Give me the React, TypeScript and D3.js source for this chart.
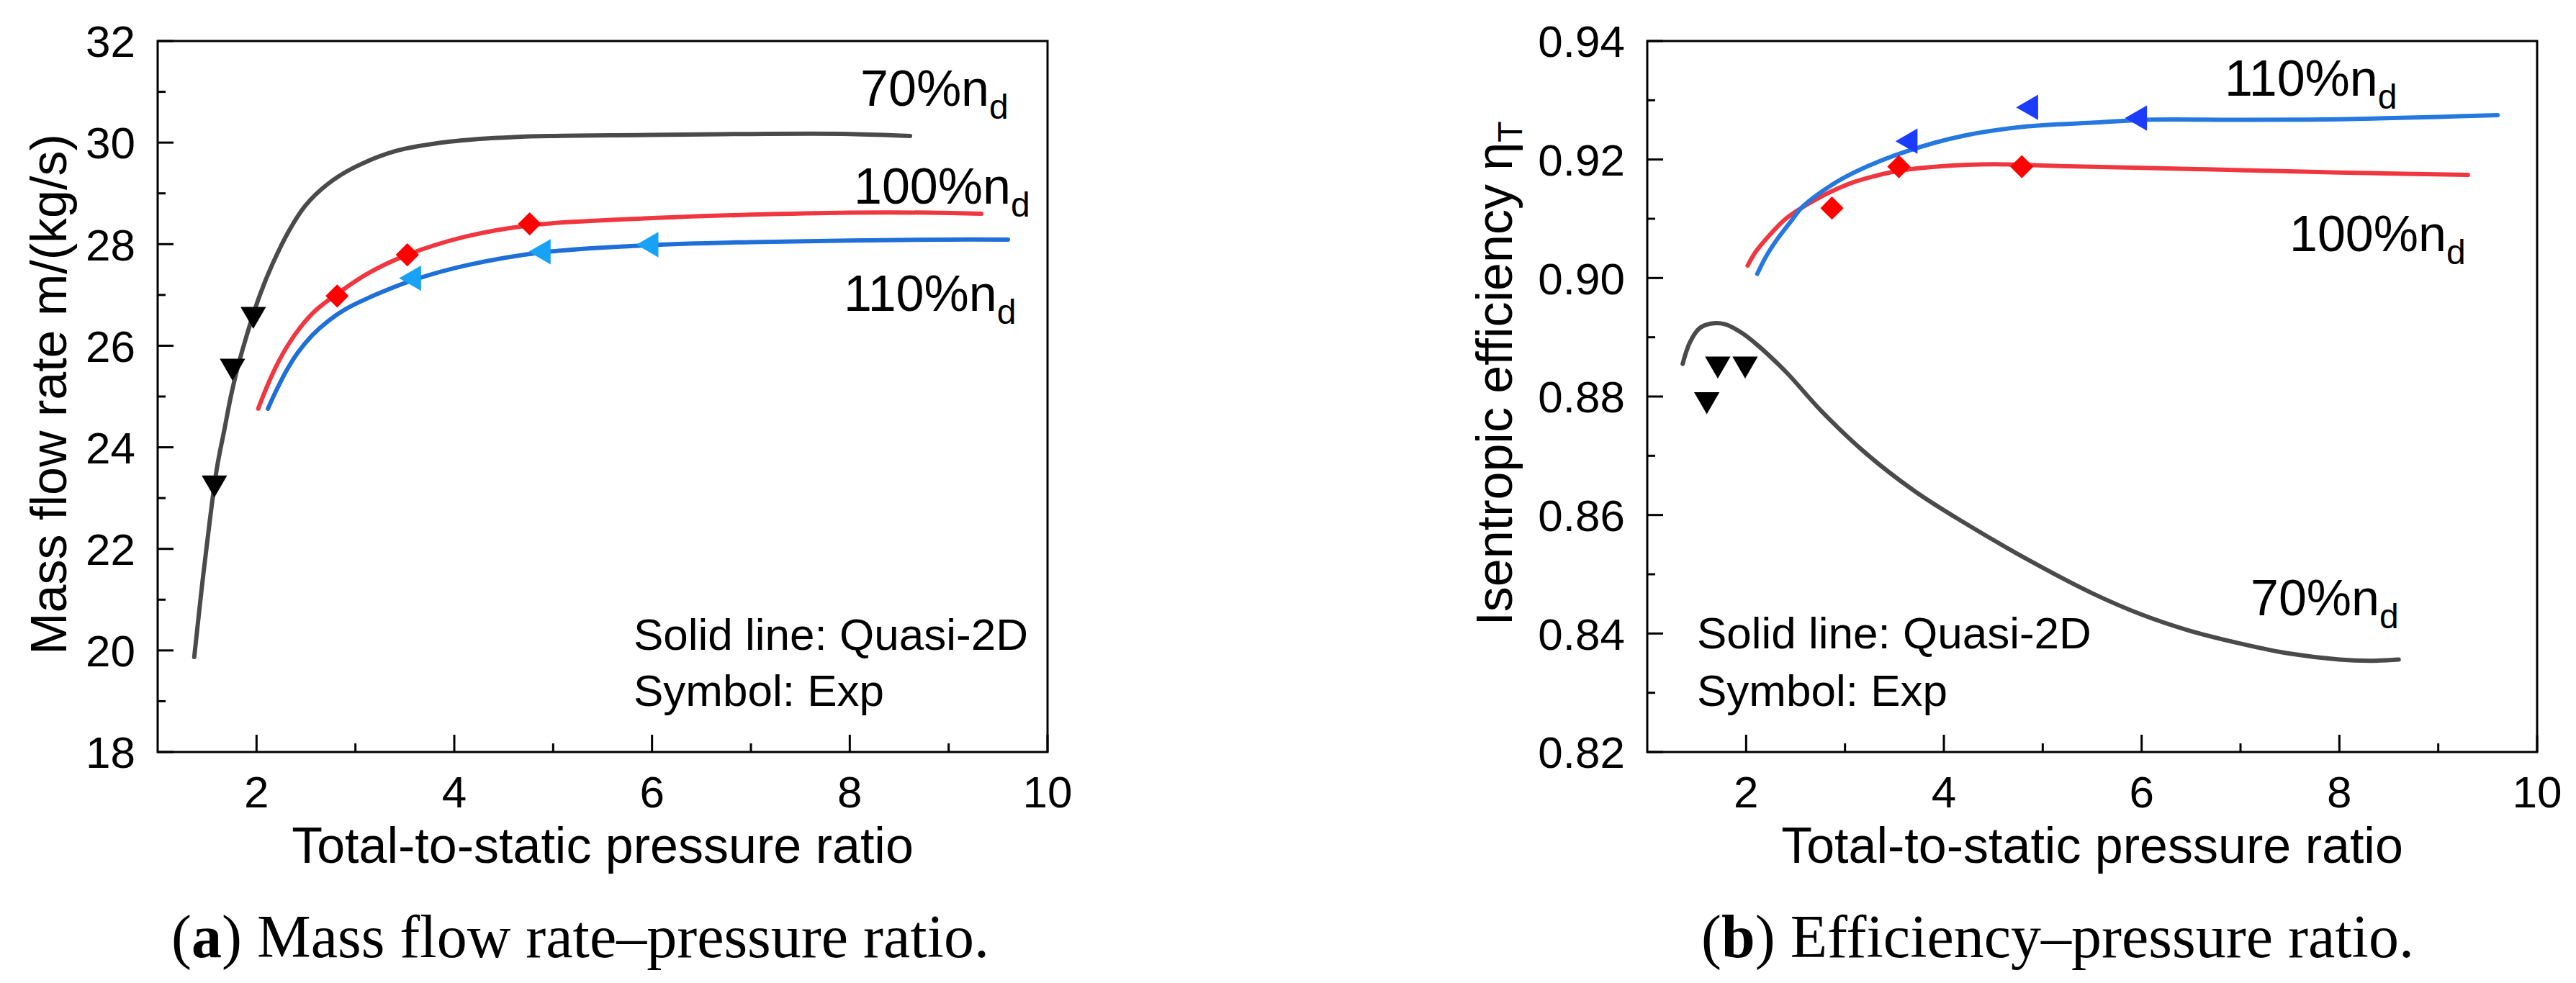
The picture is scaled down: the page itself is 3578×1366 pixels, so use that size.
import React from "react";
import * as d3 from "d3";

type Pt = [number, number];

// ---------- axes ----------
const xDomain: [number, number] = [1, 10];
const xMajorTicks = [2, 4, 6, 8, 10];
const xMinorTicks = [3, 5, 7, 9];
const massDomain: [number, number] = [18, 32];
const massMajorTicks = [18, 20, 22, 24, 26, 28, 30, 32];
const massMinorTicks = [19, 21, 23, 25, 27, 29, 31];
const effDomain: [number, number] = [0.82, 0.94];
const effMajorTicks = [0.82, 0.84, 0.86, 0.88, 0.9, 0.92, 0.94];
const effMinorTicks = [0.83, 0.85, 0.87, 0.89, 0.91, 0.93];

// ---------- (a) mass flow rate: Quasi-2D lines ----------
const massLine70: Pt[] = [
  [1.37, 19.87], [1.45, 21.3], [1.53, 22.6], [1.6, 23.6], [1.675, 24.35], [1.74, 25.0],
  [1.806, 25.55], [1.9, 26.2], [2.034, 27.0], [2.164, 27.62], [2.327, 28.26], [2.49, 28.75],
  [2.718, 29.18], [2.978, 29.5], [3.4, 29.83], [3.955, 30.02], [4.606, 30.11], [5.967, 30.15],
  [7.0, 30.17], [8.0, 30.17], [8.61, 30.13],
];
const massLine100: Pt[] = [
  [2.017, 24.76], [2.1, 25.17], [2.2, 25.6], [2.32, 26.02], [2.45, 26.38], [2.6, 26.7],
  [2.815, 27.02], [3.141, 27.44], [3.525, 27.79], [4.117, 28.15], [4.76, 28.37], [5.967, 28.51],
  [7.0, 28.58], [8.0, 28.62], [8.8, 28.62], [9.33, 28.6],
];
const massLine110: Pt[] = [
  [2.115, 24.76], [2.2, 25.12], [2.3, 25.5], [2.42, 25.87], [2.56, 26.2], [2.72, 26.48],
  [2.9, 26.72], [3.2, 27.0], [3.597, 27.3], [4.117, 27.58], [4.9, 27.84], [5.967, 27.98],
  [7.0, 28.04], [8.0, 28.07], [9.0, 28.09], [9.6, 28.09],
];
// ---------- (a) experiment symbols ----------
const massExp70: Pt[] = [[1.574, 23.3], [1.757, 25.6], [1.967, 26.62]];
const massExp100: Pt[] = [[2.815, 26.98], [3.525, 27.79], [4.762, 28.4]];
const massExp110: Pt[] = [[3.59, 27.33], [4.9, 27.85], [5.99, 27.99]];

// ---------- (b) efficiency: Quasi-2D lines ----------
const effLine70: Pt[] = [
  [1.358, 0.8855], [1.43, 0.8891], [1.527, 0.8915], [1.641, 0.8923], [1.788, 0.8922],
  [1.95, 0.8908], [2.113, 0.8887], [2.406, 0.8841], [2.764, 0.8775], [3.219, 0.8703],
  [3.707, 0.864], [4.196, 0.8588], [4.846, 0.8525], [5.5, 0.8468], [6.0, 0.8432],
  [6.5, 0.8404], [7.0, 0.8383], [7.5, 0.8366], [8.0, 0.8356], [8.3, 0.8354], [8.6, 0.8356],
];
const effLine100: Pt[] = [
  [2.015, 0.9021], [2.1, 0.9045], [2.24, 0.9073], [2.38, 0.9097], [2.51, 0.9113],
  [2.764, 0.9138], [3.057, 0.916], [3.3, 0.9172], [3.545, 0.9181], [4.0, 0.9189],
  [4.5, 0.9192], [5.17, 0.9189], [6.0, 0.9186], [7.0, 0.9182], [8.0, 0.9178], [9.3, 0.9174],
];
const effLine110: Pt[] = [
  [2.113, 0.9007], [2.2, 0.9036], [2.308, 0.9064], [2.45, 0.9095], [2.569, 0.912],
  [2.894, 0.916], [3.22, 0.9188], [3.643, 0.9215], [4.196, 0.924], [4.846, 0.9256],
  [5.497, 0.9262], [6.04, 0.9267], [7.0, 0.9267], [8.0, 0.9268], [9.0, 0.9272], [9.6, 0.9275],
];
// ---------- (b) experiment symbols ----------
const effExp70: Pt[] = [[1.602, 0.8795], [1.713, 0.8855], [1.99, 0.8855]];
const effExp100: Pt[] = [[2.868, 0.9118], [3.545, 0.9188], [4.788, 0.9188]];
const effExp110: Pt[] = [[3.659, 0.9231], [4.879, 0.9288], [5.98, 0.927]];

// ---------- texts ----------
const speedLabels = ["70%n", "100%n", "110%n"];
const noteLines = ["Solid line: Quasi-2D", "Symbol: Exp"];
const massLabelPos: Pt[] = [[8.107, 30.725], [8.041, 28.8], [7.939, 26.686]];
const massNotePos: Pt[] = [[5.813, 20.012], [5.813, 18.907]];
const effLabelPos: Pt[] = [[7.102, 0.84307], [7.495, 0.90453], [6.84, 0.93077]];
const effNotePos: Pt[] = [[1.502, 0.83749], [1.502, 0.82778]];

const SANS = "'Liberation Sans', Arial, Helvetica, sans-serif";
const SERIF = "'Liberation Serif', 'Times New Roman', serif";

const TOP = 57;
const BOTTOM = 1045;

type Shape = "down" | "left" | "diamond";
interface Series {
  line: Pt[];
  exp: Pt[];
  lineColor: string;
  markColor: string;
  shape: Shape;
}

interface PanelProps {
  left: number;
  right: number;
  yDomain: [number, number];
  yMajor: number[];
  yMinor: number[];
  fmt: (v: number) => string;
  series: Series[];
  labelPos: Pt[];
  notePos: Pt[];
  yTitle: string;
  yTitleSub?: string;
  yTitleX: number;
  yTitleY: number;
  capLetter: string;
  capText: string;
  capX: number;
}

function markerPath(shape: Shape): { d: string; rot: number } {
  if (shape === "diamond") {
    return { d: d3.symbol().type(d3.symbolSquare).size(520)() as string, rot: 45 };
  }
  const d = d3.symbol().type(d3.symbolTriangle).size(540)() as string;
  return { d, rot: shape === "down" ? 180 : -90 };
}

function Panel(p: PanelProps) {
  const x = d3.scaleLinear().domain(xDomain).range([p.left, p.right]);
  const y = d3.scaleLinear().domain(p.yDomain).range([BOTTOM, TOP]);
  const line = d3
    .line<Pt>()
    .x((d) => x(d[0]))
    .y((d) => y(d[1]))
    .curve(d3.curveCatmullRom.alpha(0.5));
  const midX = (p.left + p.right) / 2;

  return (
    <g>
      {p.series.map((s, i) => (
        <path
          key={"l" + i}
          d={line(s.line) as string}
          fill="none"
          stroke={s.lineColor}
          strokeWidth={6}
          strokeLinecap="round"
          strokeLinejoin="round"
        />
      ))}
      {p.series.map((s, i) => {
        const m = markerPath(s.shape);
        return s.exp.map((d, j) => (
          <path
            key={"m" + i + "_" + j}
            d={m.d}
            fill={s.markColor}
            transform={`translate(${x(d[0])},${y(d[1])}) rotate(${m.rot})`}
          />
        ));
      })}
      <rect
        x={p.left}
        y={TOP}
        width={p.right - p.left}
        height={BOTTOM - TOP}
        fill="none"
        stroke="#000"
        strokeWidth={3}
      />
      {xMajorTicks.map((t) => (
        <g key={"xt" + t}>
          <line x1={x(t)} x2={x(t)} y1={BOTTOM} y2={BOTTOM - 24} stroke="#000" strokeWidth={3} />
          <text x={x(t)} y={1122} textAnchor="middle" fontFamily={SANS} fontSize={62}>
            {t}
          </text>
        </g>
      ))}
      {xMinorTicks.map((t) => (
        <line key={"xm" + t} x1={x(t)} x2={x(t)} y1={BOTTOM} y2={BOTTOM - 12} stroke="#000" strokeWidth={3} />
      ))}
      {p.yMajor.map((t) => (
        <g key={"yt" + t}>
          <line x1={p.left} x2={p.left + 22} y1={y(t)} y2={y(t)} stroke="#000" strokeWidth={3} />
          <text
            x={p.left - 31}
            y={y(t)}
            dy="0.36em"
            textAnchor="end"
            fontFamily={SANS}
            fontSize={62}
          >
            {p.fmt(t)}
          </text>
        </g>
      ))}
      {p.yMinor.map((t) => (
        <line key={"ym" + t} x1={p.left} x2={p.left + 11} y1={y(t)} y2={y(t)} stroke="#000" strokeWidth={3} />
      ))}
      {p.labelPos.map((d, i) => (
        <text key={"sl" + i} x={x(d[0])} y={y(d[1])} fontFamily={SANS} fontSize={70}>
          {speedLabels[i]}
          <tspan fontSize={48} dy={18}>
            d
          </tspan>
        </text>
      ))}
      {p.notePos.map((d, i) => (
        <text key={"nt" + i} x={x(d[0])} y={y(d[1])} fontFamily={SANS} fontSize={62}>
          {noteLines[i]}
        </text>
      ))}
      <text x={midX} y={1199} textAnchor="middle" fontFamily={SANS} fontSize={70}>
        Total-to-static pressure ratio
      </text>
      <text
        transform={`translate(${p.yTitleX},${p.yTitleY}) rotate(-90)`}
        textAnchor="middle"
        fontFamily={SANS}
        fontSize={70}
      >
        {p.yTitle}
        {p.yTitleSub ? (
          <tspan fontSize={48} dy={14}>
            {p.yTitleSub}
          </tspan>
        ) : null}
      </text>
      <text x={p.capX} y={1330} textAnchor="middle" fontFamily={SERIF} fontSize={84}>
        (<tspan fontWeight="bold">{p.capLetter}</tspan>) {p.capText}
      </text>
    </g>
  );
}

export default function App() {
  const massSeries: Series[] = [
    { line: massLine70, exp: massExp70, lineColor: "#4a4a4a", markColor: "#000000", shape: "down" },
    { line: massLine100, exp: massExp100, lineColor: "#f0363f", markColor: "#ff0000", shape: "diamond" },
    { line: massLine110, exp: massExp110, lineColor: "#1f6fd8", markColor: "#18a2f6", shape: "left" },
  ];
  const effSeries: Series[] = [
    { line: effLine70, exp: effExp70, lineColor: "#4a4a4a", markColor: "#000000", shape: "down" },
    { line: effLine100, exp: effExp100, lineColor: "#f0363f", markColor: "#ff0000", shape: "diamond" },
    { line: effLine110, exp: effExp110, lineColor: "#2478e0", markColor: "#1b3cff", shape: "left" },
  ];
  return (
    <div style={{ position: "absolute", left: 0, top: 0, background: "#fff" }}>
      <svg width={3578} height={1366} style={{ display: "block" }}>
        <rect width={3578} height={1366} fill="#fff" />
        <Panel
          left={219}
          right={1455}
          yDomain={massDomain}
          yMajor={massMajorTicks}
          yMinor={massMinorTicks}
          fmt={d3.format("d")}
          series={massSeries}
          labelPos={massLabelPos}
          notePos={massNotePos}
          yTitle="Mass flow rate m/(kg/s)"
          yTitleX={92}
          yTitleY={548}
          capLetter="a"
          capText="Mass flow rate–pressure ratio."
          capX={806}
        />
        <Panel
          left={2288}
          right={3524}
          yDomain={effDomain}
          yMajor={effMajorTicks}
          yMinor={effMinorTicks}
          fmt={d3.format(".2f")}
          series={effSeries}
          labelPos={effLabelPos}
          notePos={effNotePos}
          yTitle="Isentropic efficiency η"
          yTitleSub="T"
          yTitleX={2100}
          yTitleY={519}
          capLetter="b"
          capText="Efficiency–pressure ratio."
          capX={2858}
        />
      </svg>
    </div>
  );
}
